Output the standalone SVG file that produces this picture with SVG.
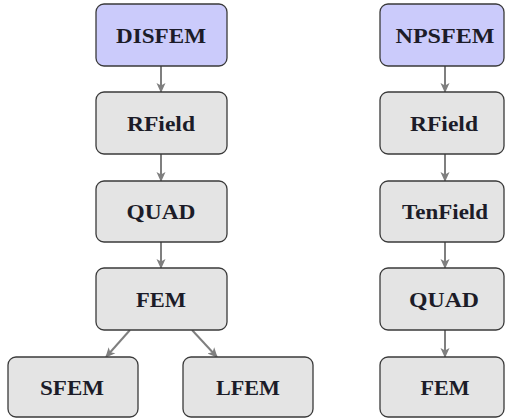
<svg xmlns="http://www.w3.org/2000/svg" width="505" height="420" viewBox="0 0 505 420">
  <defs>
    <marker id="arr" viewBox="0 0 10 10" refX="9" refY="5" markerWidth="5" markerHeight="5" orient="auto" markerUnits="strokeWidth">
      <path d="M0,0.5 L10,5 L0,9.5 L2.5,5 Z" fill="#7f7f7f"/>
    </marker>
    <style>
      .box { stroke: #3a3a3a; stroke-width: 1.3; }
      .root { fill: #cbcbfb; }
      .step { fill: #e4e4e4; }
      .lbl { font-family: "Liberation Serif", "DejaVu Serif", serif; font-weight: bold; font-size: 21px; fill: #1c1c28; text-anchor: middle; }
      .edge { stroke: #7f7f7f; stroke-width: 2; fill: none; marker-end: url(#arr); }
    </style>
  </defs>
  <rect width="505" height="420" fill="#ffffff"/>

  <!-- connectors -->
  <g id="connectors">
    <line class="edge" x1="161" y1="66" x2="161" y2="92"/>
    <line class="edge" x1="161" y1="154" x2="161" y2="181"/>
    <line class="edge" x1="161" y1="242" x2="161" y2="268"/>
    <line class="edge" x1="130" y1="330" x2="106" y2="357"/>
    <line class="edge" x1="192" y1="330" x2="217" y2="357"/>
    <line class="edge" x1="445" y1="66" x2="445" y2="92"/>
    <line class="edge" x1="445" y1="154" x2="445" y2="181"/>
    <line class="edge" x1="445" y1="242" x2="445" y2="268"/>
    <line class="edge" x1="445" y1="330" x2="445" y2="357"/>
  </g>

  <!-- left chain -->
  <g id="disfem">
    <rect class="box root" x="96" y="4" width="131" height="62" rx="8"/>
    <text class="lbl" x="161" y="42.5" textLength="90" lengthAdjust="spacingAndGlyphs">DISFEM</text>
  </g>
  <g id="rfield-left">
    <rect class="box step" x="96" y="92" width="131" height="62" rx="8"/>
    <text class="lbl" x="161" y="130.5" textLength="68" lengthAdjust="spacingAndGlyphs">RField</text>
  </g>
  <g id="quad-left">
    <rect class="box step" x="96" y="181" width="131" height="61" rx="8"/>
    <text class="lbl" x="161" y="218.5" textLength="69" lengthAdjust="spacingAndGlyphs">QUAD</text>
  </g>
  <g id="fem-left">
    <rect class="box step" x="96" y="268" width="131" height="62" rx="8"/>
    <text class="lbl" x="161" y="306.5" textLength="50" lengthAdjust="spacingAndGlyphs">FEM</text>
  </g>
  <g id="sfem">
    <rect class="box step" x="8" y="357" width="130" height="60" rx="8"/>
    <text class="lbl" x="72" y="394.5" textLength="64" lengthAdjust="spacingAndGlyphs">SFEM</text>
  </g>
  <g id="lfem">
    <rect class="box step" x="183" y="357" width="130" height="60" rx="8"/>
    <text class="lbl" x="248" y="394.5" textLength="64" lengthAdjust="spacingAndGlyphs">LFEM</text>
  </g>

  <!-- right chain -->
  <g id="npsfem">
    <rect class="box root" x="380" y="4" width="124" height="62" rx="8"/>
    <text class="lbl" x="445" y="42.5" textLength="99" lengthAdjust="spacingAndGlyphs">NPSFEM</text>
  </g>
  <g id="rfield-right">
    <rect class="box step" x="380" y="92" width="124" height="62" rx="8"/>
    <text class="lbl" x="444" y="130.5" textLength="68" lengthAdjust="spacingAndGlyphs">RField</text>
  </g>
  <g id="tenfield">
    <rect class="box step" x="380" y="181" width="124" height="61" rx="8"/>
    <text class="lbl" x="445" y="218.5" textLength="86" lengthAdjust="spacingAndGlyphs">TenField</text>
  </g>
  <g id="quad-right">
    <rect class="box step" x="380" y="268" width="124" height="62" rx="8"/>
    <text class="lbl" x="444" y="306.5" textLength="70" lengthAdjust="spacingAndGlyphs">QUAD</text>
  </g>
  <g id="fem-right">
    <rect class="box step" x="380" y="357" width="124" height="60" rx="8"/>
    <text class="lbl" x="445" y="394.5" textLength="49" lengthAdjust="spacingAndGlyphs">FEM</text>
  </g>
</svg>
